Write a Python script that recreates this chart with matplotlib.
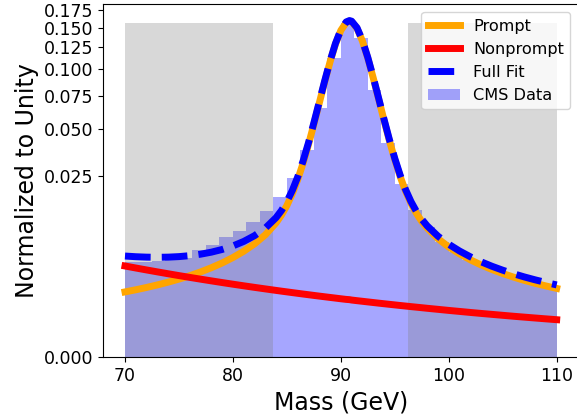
import numpy as np
import matplotlib
matplotlib.use("Agg")
import matplotlib.pyplot as plt

# ---- data ----
bin_edges = np.arange(70.0, 110.0 + 0.001, 1.25)  # 32 bins of 1.25 GeV
data_counts = [0.0036, 0.0036, 0.0037, 0.0038, 0.0041,
               0.00513, 0.00588, 0.00718, 0.00838, 0.01037, 0.01303,
               0.01725, 0.02402, 0.0372, 0.0644, 0.1116, 0.156,
               0.1356, 0.0797, 0.0409, 0.0219,
               0.0133, 0.00913, 0.00642, 0.00489, 0.00382, 0.00326,
               0.00276, 0.00231, 0.00191, 0.00168, 0.00146]

mass = [70, 71, 72, 73, 74, 75, 76, 77, 78, 79, 80, 81, 82, 83, 84,
        84.5, 85, 85.5, 86, 86.5, 87, 87.5, 88, 88.5, 89, 89.5, 90,
        90.5, 90.8, 91, 91.5, 92, 92.5, 93, 93.5, 94, 94.5, 95, 95.5,
        96, 96.5, 97, 97.5, 98, 99, 100, 101, 102, 103, 104, 105, 106,
        107, 108, 109, 110]

prompt = [0.001155, 0.001272, 0.001409, 0.001569, 0.001757, 0.001981,
          0.002249, 0.002577, 0.00298, 0.003483, 0.004125, 0.004956,
          0.00607, 0.007647, 0.010118,
          0.011989, 0.014574, 0.018217, 0.02336, 0.030513, 0.040205,
          0.052857, 0.068628, 0.087251, 0.107797, 0.128424, 0.14613,
          0.157076, 0.15900, 0.15814, 0.148985, 0.132317, 0.111996,
          0.091248, 0.072143, 0.055763, 0.042488, 0.032232, 0.024608,
          0.019107, 0.015205, 0.012436, 0.010446, 0.008973,
          0.006942, 0.005583, 0.004595, 0.003849, 0.003268, 0.002808,
          0.002438, 0.002136, 0.001886, 0.001678, 0.001502, 0.001352]

nonprompt = [0.003160, 0.002955, 0.002764, 0.002585, 0.002417, 0.002260,
             0.002114, 0.001977, 0.001849, 0.001729, 0.001617, 0.001512,
             0.001414, 0.001323, 0.001237,
             0.001196, 0.001157, 0.001119, 0.001082, 0.001046, 0.001012,
             0.000978, 0.000946, 0.000915, 0.000885, 0.000856, 0.000827,
             0.000800, 0.000790, 0.000774, 0.000748, 0.000724, 0.000700,
             0.000677, 0.000654, 0.000633, 0.000612, 0.000592, 0.000572,
             0.000554, 0.000535, 0.000518, 0.000501, 0.000484,
             0.000453, 0.000423, 0.000396, 0.000370, 0.000346, 0.000324,
             0.000303, 0.000283, 0.000265, 0.000248, 0.000232, 0.000217]

full_fit = [0.004315, 0.004227, 0.004173, 0.004154, 0.004174, 0.004241,
            0.004363, 0.004554, 0.004829, 0.005212, 0.005742, 0.006468,
            0.007484, 0.008970, 0.011355,
            0.013185, 0.015731, 0.019336, 0.024442, 0.031559, 0.041217,
            0.053835, 0.069574, 0.088166, 0.108682, 0.129280, 0.146957,
            0.157876, 0.159790, 0.158914, 0.149733, 0.133041, 0.112696,
            0.091925, 0.072797, 0.056396, 0.043100, 0.032824, 0.025180,
            0.019661, 0.015740, 0.012954, 0.010947, 0.009457,
            0.007395, 0.006006, 0.004991, 0.004219, 0.003614, 0.003132,
            0.002741, 0.002419, 0.002151, 0.001926, 0.001734, 0.001569]

sidebands = [(70.0, 83.75), (96.25, 110.0)]
y_ticks = [0.0, 0.025, 0.05, 0.075, 0.1, 0.125, 0.15, 0.175]
x_ticks = [70, 80, 90, 100, 110]

# ---- plot ----
fig = plt.figure(figsize=(5.77, 4.17), dpi=100)
ax = fig.add_axes([0.1792, 0.144, 0.823, 0.846])
ax.set_yscale('function', functions=(np.cbrt, lambda v: np.power(v, 3)))

centers = 0.5 * (bin_edges[:-1] + bin_edges[1:])
ax.hist(centers, bins=bin_edges, weights=data_counts, color='blue',
        alpha=0.35, label='CMS Data', zorder=1)
top = max(data_counts)
for lo, hi in sidebands:
    ax.fill_between([lo, hi], 0, top, color='gray', alpha=0.3,
                    linewidth=0, zorder=2)

ax.plot(mass, prompt, color='orange', lw=5, label='Prompt', zorder=3)
ax.plot(mass, nonprompt, color='red', lw=5, label='Nonprompt', zorder=3)
ax.plot(mass, full_fit, color='blue', lw=5, ls='--', label='Full Fit', zorder=4)

ax.set_xlim(68, 112)
ax.set_ylim(0, 0.1843)
ax.set_yticks(y_ticks)
ax.set_yticklabels([f"{t:.3f}" for t in y_ticks])
ax.set_xticks(x_ticks)
ax.tick_params(labelsize=12.5)
ax.set_xlabel('Mass (GeV)', fontsize=17)
ax.set_ylabel('Normalized to Unity', fontsize=17)

h, l = ax.get_legend_handles_labels()
order = [l.index(n) for n in ['Prompt', 'Nonprompt', 'Full Fit', 'CMS Data']]
ax.legend([h[i] for i in order], [l[i] for i in order], loc='upper right',
          fontsize=11.6)

fig.savefig('out.png', dpi=100)
